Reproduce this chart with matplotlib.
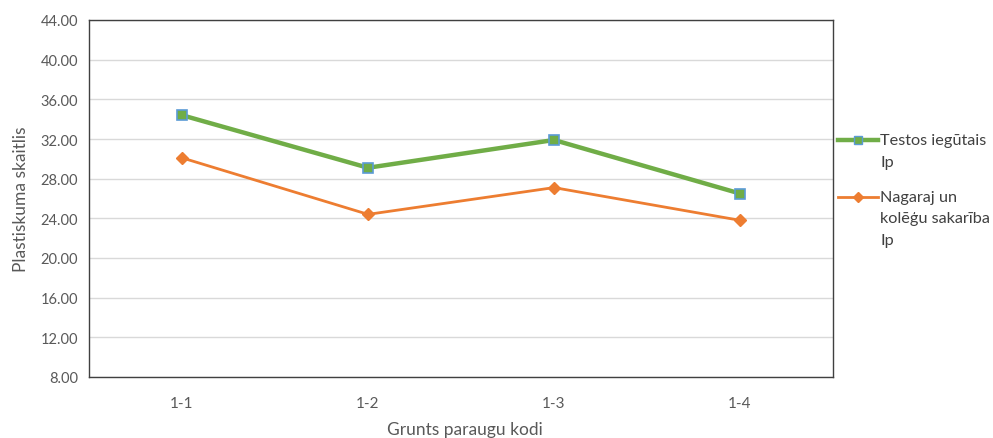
import matplotlib
matplotlib.use("Agg")
import matplotlib.pyplot as plt
from matplotlib.lines import Line2D

categories = ["1-1", "1-2", "1-3", "1-4"]
testos = [34.4, 29.1, 31.9, 26.5]
nagaraj = [30.1, 24.4, 27.1, 23.8]
series_labels = [["Testos iegūtais", "Ip"], ["Nagaraj un", "kolēģu sakarība", "Ip"]]
y_ticks = [8, 12, 16, 20, 24, 28, 32, 36, 40, 44]

plt.rcParams['font.family'] = ['Lato', 'DejaVu Sans']

W, H = 993, 439
fig = plt.figure(figsize=(W/100, H/100), dpi=100)
ax = fig.add_axes([89/W, 61/H, (833-89)/W, (378-21)/H])

green = '#70ad47'
orange = '#ed7d31'
x = list(range(len(categories)))
ax.plot(x, testos, color=green, lw=3.2, marker='s', markersize=7.5,
        markerfacecolor=green, markeredgecolor='#5b9bd5', markeredgewidth=1.2,
        zorder=3)
ax.plot(x, nagaraj, color=orange, lw=2.0, marker='D', markersize=6.5,
        markerfacecolor=orange, markeredgecolor=orange, zorder=3)

ax.set_xlim(-0.5, len(categories) - 0.5)
ax.set_ylim(8, 44)
ax.set_yticks(y_ticks)
ax.set_yticklabels([f"{v:.2f}" for v in y_ticks])
ax.set_xticks(x)
ax.set_xticklabels(categories)
ax.grid(axis='y', color='#d9d9d9', lw=1)
ax.set_axisbelow(True)
for s in ax.spines.values():
    s.set_color('#404040')
    s.set_linewidth(1.0)
ax.tick_params(axis='both', length=0, colors='#595959')
ax.tick_params(axis='y', pad=8, labelsize=10.5)
ax.tick_params(axis='x', pad=14, labelsize=11)

ax.set_xlabel("Grunts paraugu kodi", color='#595959', fontsize=12.5)
ax.xaxis.label.set_va('center')
ax.xaxis.set_label_coords(0.505, (378 - 430) / 357)
ax.set_ylabel("Plastiskuma skaitlis", color='#595959', fontsize=12.5, labelpad=8)

# Legend (drawn manually to match wrapped labels with handle at first line)
legend_specs = [
    (series_labels[0], green, 3.2, 's', 6, '#5b9bd5', 141),
    (series_labels[1], orange, 2.0, 'D', 5.5, orange, 198),
]
for lines, col, lw, mk, ms, mec, ytop in legend_specs:
    yf = 1 - ytop / H
    fig.add_artist(Line2D([838/W, 878/W], [yf, yf], transform=fig.transFigure,
                          color=col, lw=lw))
    fig.add_artist(Line2D([858/W], [yf], transform=fig.transFigure,
                          marker=mk, markersize=ms, markerfacecolor=col,
                          markeredgecolor=mec, markeredgewidth=1.0, color=col))
    for i, t in enumerate(lines):
        fig.text(880/W, 1 - (ytop + i * 21.5) / H, t, va='center', ha='left',
                 fontsize=11.7, color='#404040')

fig.savefig("out.png", dpi=100, facecolor='white')
